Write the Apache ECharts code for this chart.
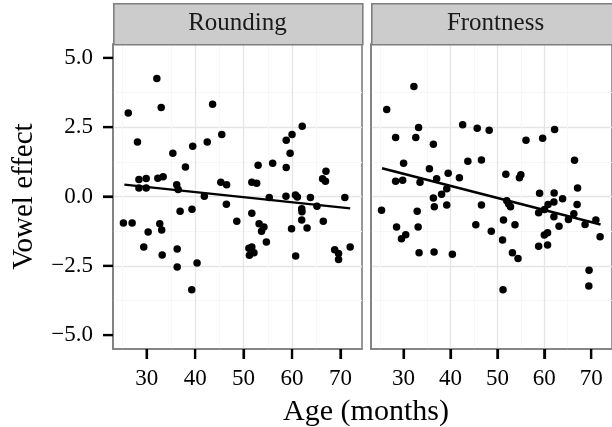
<!DOCTYPE html>
<html>
<head>
<meta charset="utf-8">
<script src="https://cdn.jsdelivr.net/npm/echarts@6/dist/echarts.min.js"></script>
<style>
html,body{margin:0;padding:0;background:#fff;}
#chart{width:612px;height:427px;}
</style>
</head>
<body>
<div id="chart"></div>
<script>
// ---- data ----
const panels = ['Rounding', 'Frontness'];
const xTicks = [30, 40, 50, 60, 70];
const yTicks = [-5, -2.5, 0, 2.5, 5];
const xTitle = 'Age (months)';
const yTitle = 'Vowel effect';

const roundAge = [26.2,32.1,33.0,43.6,28.1,62.1,60.0,58.8,45.5,42.5,39.5,35.4,59.6,38.0,53.0,56.0,58.8,67.0,66.3,66.9,28.4,29.9,32.3,33.4,28.4,29.9,36.2,36.5,45.3,46.5,51.7,52.7,41.9,55.3,58.75,60.7,61.1,63.8,70.9,
  25.2,27.0,30.3,32.7,33.1,29.4,33.2,36.9,39.35,36.3,36.3,40.4,39.3,46.45,48.6,51.7,53.2,54.2,53.7,54.7,51.1,51.7,51.2,52.15,59.9,60.75,62.0,62.05,62.0,63.1,65.15,66.45,68.8,69.6,69.6,72.0];
const roundEffect = [3.01,4.26,3.21,3.33,1.97,2.53,2.24,2.03,2.24,1.97,1.81,1.56,1.56,1.06,1.13,1.20,1.05,0.91,0.64,0.55,0.61,0.65,0.66,0.71,0.31,0.31,0.42,0.25,0.51,0.42,0.51,0.48,0.01,-0.04,0.01,0.05,-0.02,-0.04,-0.04,
  -0.96,-0.96,-1.28,-0.98,-1.21,-1.82,-2.11,-0.53,-0.46,-1.89,-2.54,-2.40,-3.36,-0.28,-0.89,-0.60,-0.98,-1.10,-1.25,-1.64,-1.87,-1.82,-2.12,-2.03,-1.16,-2.15,-0.44,-0.55,-0.85,-1.14,-0.35,-0.89,-1.92,-2.06,-2.27,-1.82];

const frontAge = [32.2,26.4,33.2,28.3,32.6,36.35,42.6,45.7,48.25,56.1,59.65,62.2,43.7,46.6,66.45,30.0,35.5,28.3,29.8,33.5,37.05,39.5,41.9,39.2,38.1,36.35,51.8,55.0,54.7,59.0,62.1,67.1,63.9,
  36.55,39.2,25.3,32.9,28.5,30.45,29.55,33.1,33.3,36.5,40.4,46.6,45.4,48.7,51.3,51.1,53.75,53.2,54.4,51.2,52.0,52.4,52.8,58.8,60.05,60.8,62.05,62.05,63.15,58.8,60.0,60.7,60.7,65.15,66.3,67.0,68.7,71.0,71.9,69.55,69.5];
const frontEffect = [3.97,3.14,2.49,2.13,2.13,1.88,2.59,2.46,2.39,2.03,2.10,2.42,1.27,1.32,1.31,1.20,1.00,0.55,0.59,0.51,0.64,0.84,0.68,0.28,0.08,-0.05,0.80,0.78,0.68,0.12,0.13,0.31,-0.08,
  -0.37,-0.31,-0.50,-0.53,-1.10,-1.38,-1.52,-1.10,-2.03,-2.00,-2.08,-0.31,-1.02,-1.25,-0.85,-1.57,-1.02,-2.03,-2.24,-3.36,-0.15,-0.27,-0.37,-0.59,-0.47,-0.29,-0.20,-0.73,-1.07,-1.79,-1.39,-1.31,-1.75,-0.83,-0.62,-0.29,-1.01,-0.85,-1.45,-2.66,-3.23];

const roundFitAge = [25.4, 72.0];
const roundFitEffect = [0.43, -0.43];
const frontFitAge = [25.4, 72.0];
const frontFitEffect = [1.02, -1.01];

// ---- build ----
const zip = (a, b) => a.map((v, i) => [v, b[i]]);
const FONT = "'Liberation Serif', 'DejaVu Serif', serif";
const xRange = [23.05, 74.44];
const yRange = [-5.5, 5.5];
const gridTop = 44, gridH = 305, gridW = 249;
const gridLefts = [113, 371];
const fmtY = v => (v < 0 ? '\u2212' : '') + Math.abs(v).toFixed(1);
const BORDER = '#7F7F7F';
const TICK = '#000000';
const TICK_LEN = 10;

const chart = echarts.init(document.getElementById('chart'), null, {renderer: 'canvas'});

const grids = gridLefts.map(l => ({
  left: l, top: gridTop, width: gridW, height: gridH,
  show: true, borderColor: BORDER, borderWidth: 1.6
}));

const xAxes = gridLefts.map((l, i) => ({
  type: 'value', gridIndex: i, min: xRange[0], max: xRange[1],
  minInterval: 10, maxInterval: 10,
  axisLine: {show: true, onZero: false, lineStyle: {color: BORDER, width: 1.6}},
  axisTick: {show: true, inside: false, customValues: xTicks, length: TICK_LEN, lineStyle: {color: TICK, width: 2.2}},
  axisLabel: {show: true, customValues: xTicks, margin: 18, color: '#000', fontFamily: FONT, fontSize: 23},
  splitLine: {show: true, showMinLine: false, showMaxLine: false, lineStyle: {color: '#E5E5E5', width: 1.3}},
  minorTick: {show: false, splitNumber: 2},
  minorSplitLine: {show: true, lineStyle: {color: '#F7F7F7', width: 1}}
}));

const yAxes = gridLefts.map((l, i) => ({
  type: 'value', gridIndex: i, min: yRange[0], max: yRange[1],
  minInterval: 2.5, maxInterval: 2.5,
  axisLine: {show: true, onZero: false, lineStyle: {color: BORDER, width: 1.6}},
  axisTick: {show: i === 0, inside: false, customValues: yTicks, length: TICK_LEN, lineStyle: {color: TICK, width: 2.2}},
  axisLabel: {show: i === 0, customValues: yTicks, margin: 20, color: '#000', fontFamily: FONT, fontSize: 23,
    formatter: fmtY},
  splitLine: {show: true, showMinLine: false, showMaxLine: false, lineStyle: {color: '#E5E5E5', width: 1.3}},
  minorTick: {show: false, splitNumber: 2},
  minorSplitLine: {show: true, lineStyle: {color: '#F7F7F7', width: 1}}
}));

const pointSets = [zip(roundAge, roundEffect), zip(frontAge, frontEffect)];
const fitSets = [zip(roundFitAge, roundFitEffect), zip(frontFitAge, frontFitEffect)];

const series = [];
[0, 1].forEach(i => {
  series.push({
    type: 'scatter', xAxisIndex: i, yAxisIndex: i, data: pointSets[i],
    symbol: 'circle', symbolSize: 7.5, itemStyle: {color: '#000', opacity: 1}, silent: true, z: 3
  });
  series.push({
    type: 'line', xAxisIndex: i, yAxisIndex: i, data: fitSets[i],
    symbol: 'none', lineStyle: {color: '#000', width: 2.4}, silent: true, z: 4
  });
});

const graphics = [];
panels.forEach((name, i) => {
  graphics.push({
    type: 'rect', left: gridLefts[i], top: 3, silent: true,
    shape: {x: 0, y: 0, width: gridW, height: 41},
    style: {fill: '#CCCCCC', stroke: BORDER, lineWidth: 1.6}, z: 10
  });
  graphics.push({
    type: 'text', x: gridLefts[i] + gridW / 2, y: 23, silent: true,
    style: {text: name, font: "25px " + FONT, fill: '#1A1A1A', textAlign: 'center', textVerticalAlign: 'middle'}, z: 11
  });
});
graphics.push({
  type: 'text', x: 366, y: 412, silent: true,
  style: {text: xTitle, font: "30px " + FONT, fill: '#000', textAlign: 'center', textVerticalAlign: 'middle'}, z: 11
});
graphics.push({
  type: 'text', x: 24, y: 196.5, rotation: Math.PI / 2, silent: true,
  style: {text: yTitle, font: "29px " + FONT, fill: '#000', textAlign: 'center', textVerticalAlign: 'middle'}, z: 11
});

chart.setOption({
  animation: false,
  backgroundColor: '#FFFFFF',
  grid: grids,
  xAxis: xAxes,
  yAxis: yAxes,
  series: series,
  graphic: graphics
});

// Tick marks, positioned through the library's own axis scales.
const tickEls = [];
[0, 1].forEach(i => {
  const yBottom = chart.convertToPixel({yAxisIndex: i}, yRange[0]);
  xTicks.forEach(v => {
    const px = chart.convertToPixel({xAxisIndex: i}, v);
    tickEls.push({type: 'line', silent: true, z: 30,
      shape: {x1: px, y1: yBottom, x2: px, y2: yBottom + TICK_LEN},
      style: {stroke: TICK, lineWidth: 2.2}});
  });
});
const xLeft = chart.convertToPixel({xAxisIndex: 0}, xRange[0]);
yTicks.forEach(v => {
  const py = chart.convertToPixel({yAxisIndex: 0}, v);
  tickEls.push({type: 'line', silent: true, z: 30,
    shape: {x1: xLeft - TICK_LEN, y1: py, x2: xLeft, y2: py},
    style: {stroke: TICK, lineWidth: 2.2}});
});
chart.setOption({graphic: graphics.concat(tickEls)});
</script>
</body>
</html>
